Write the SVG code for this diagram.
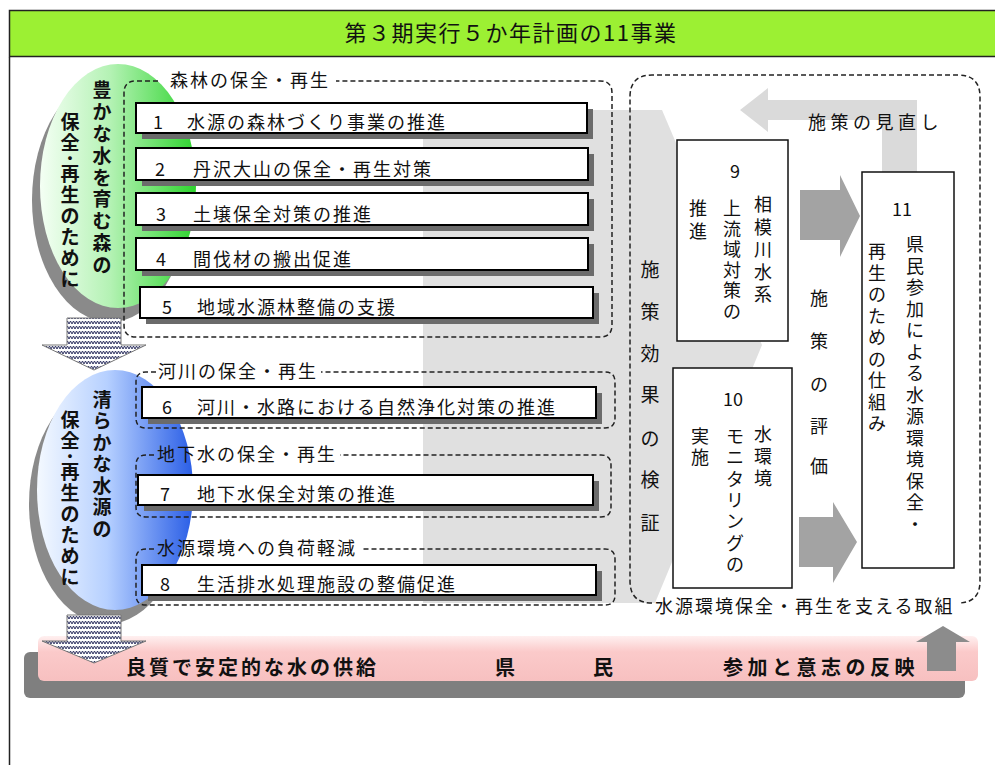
<svg xmlns="http://www.w3.org/2000/svg" width="995" height="765" viewBox="0 0 995 765">
<defs>
  <linearGradient id="gGreen" x1="0" y1="0" x2="1" y2="0">
    <stop offset="0" stop-color="#f4fff4"/>
    <stop offset="0.45" stop-color="#b4f2b4"/>
    <stop offset="1" stop-color="#2ed42e"/>
  </linearGradient>
  <linearGradient id="gBlue" x1="0" y1="0" x2="1" y2="0">
    <stop offset="0" stop-color="#f4f9ff"/>
    <stop offset="0.45" stop-color="#b6d0ff"/>
    <stop offset="1" stop-color="#2a5ee6"/>
  </linearGradient>
  <linearGradient id="gPink" x1="0" y1="0" x2="0" y2="1">
    <stop offset="0" stop-color="#fff0f0"/>
    <stop offset="0.35" stop-color="#fbcaca"/>
    <stop offset="1" stop-color="#f7c0c0"/>
  </linearGradient>
  <pattern id="wave" width="6" height="5" patternUnits="userSpaceOnUse">
    <rect width="6" height="5" fill="#fff"/>
    <path d="M0,4 L1.5,1 L3,4 L4.5,1 L6,4" fill="none" stroke="#2c3060" stroke-width="1"/>
  </pattern>
</defs>
<style>
  .t{font-family:"Noto Sans CJK JP","Noto Sans CJK SC",sans-serif;fill:#111}
  .f18{font-size:18px}
  .f19{font-size:19px}
  .f20{font-size:20px}
  .f22{font-size:22px}
  .b{font-weight:bold}
  .box{fill:#fff;stroke:#000;stroke-width:2}
  .sh{fill:#6b6b6b}
  .dash{fill:none;stroke:#222;stroke-width:1.5;stroke-dasharray:5 3}
  .vbox{fill:#fff;stroke:#111;stroke-width:1.5}
  .wav{fill:url(#wave);stroke:#777;stroke-width:1}
</style>
<rect width="995" height="765" fill="#fff"/>

<!-- header -->
<g id="header">
  <rect x="9.5" y="10.5" width="990" height="46" fill="#9cf033" stroke="#222" stroke-width="1.5"/>
  <text class="t f22" x="511" y="41" text-anchor="middle" letter-spacing="1.5">第３期実行５か年計画の11事業</text>
</g>
<line x1="9.5" y1="57" x2="9.5" y2="765" stroke="#222" stroke-width="1.5"/>

<!-- background shapes -->
<g id="evaluation">
  <polygon points="423,110 662,110 762,345 655,603 423,603" fill="#e0e0e0"/>
  <text class="t f19" text-anchor="middle" dominant-baseline="central" x="650 650 650 650 650 650 650" y="268 310 352 393 437 478 521">施策効果の検証</text>
</g>
<g id="review">
  <polygon points="740,110 768,88 768,100 917,100 917,172 882,172 882,120 768,120 768,132" fill="#dadada"/>
  <text class="t f18" x="808" y="129" letter-spacing="4.5">施策の見直し</text>
</g>

<!-- ovals -->
<g id="forest">
  <ellipse cx="110" cy="200" rx="78" ry="122" fill="#8a8a8a"/>
  <ellipse cx="118" cy="186" rx="78" ry="122" fill="url(#gGreen)"/>
  <text class="t f19 b" text-anchor="middle" dominant-baseline="central" x="102 102 102 102 102 102 102 102 102" y="88 110 132 154 176 197 219 241 263">豊かな水を育む森の</text>
  <text class="t f19 b" text-anchor="middle" dominant-baseline="central" x="70 70 70 70 70 70 70 70 70" y="120 141 157 172 193 214 235 256 277">保全･再生のために</text>
</g>
<g id="water">
  <ellipse cx="107" cy="504" rx="78" ry="120" fill="#8a8a8a"/>
  <ellipse cx="115" cy="490" rx="78" ry="120" fill="url(#gBlue)"/>
  <text class="t f19 b" text-anchor="middle" dominant-baseline="central" x="102 102 102 102 102 102 102" y="398 419.5 441 462.5 484 505.5 527">清らかな水源の</text>
  <text class="t f19 b" text-anchor="middle" dominant-baseline="central" x="70 70 70 70 70 70 70 70 70" y="418 439 455 470 491 512 533 554 575">保全･再生のために</text>
</g>

<!-- groups -->
<g id="group-forest">
  <path class="dash" d="M158,81 L136,81 Q124,81 124,93 L124,325 Q124,337 136,337 L600,337 Q612,337 612,325 L612,93 Q612,81 600,81 L336,81"/>
  <text class="t f18" x="170" y="87" letter-spacing="2">森林の保全・再生</text>
</g>
<g id="group-river">
  <path class="dash" d="M156,372 L146,372 Q136,372 136,382 L136,418 Q136,428 146,428 L605,428 Q615,428 615,418 L615,382 Q615,372 605,372 L321,372"/>
  <text class="t f18" x="158" y="378" letter-spacing="2">河川の保全・再生</text>
</g>
<g id="group-ground">
  <path class="dash" d="M154,455 L146,455 Q136,455 136,465 L136,507 Q136,517 146,517 L601,517 Q611,517 611,507 L611,465 Q611,455 601,455 L340,455"/>
  <text class="t f18" x="157" y="461" letter-spacing="2">地下水の保全・再生</text>
</g>
<g id="group-load">
  <path class="dash" d="M154,549 L146,549 Q136,549 136,559 L136,595 Q136,605 146,605 L605,605 Q615,605 615,595 L615,559 Q615,549 605,549 L361,549"/>
  <text class="t f18" x="157" y="555" letter-spacing="2">水源環境への負荷軽減</text>
</g>

<!-- items 1-8 -->
<g id="item1">
  <rect class="sh" x="142" y="109" width="451" height="30"/>
  <rect class="box" x="136" y="103" width="451" height="30"/>
  <text class="t f18" x="158" y="129" text-anchor="middle">1</text>
  <text class="t f18" x="187" y="129" letter-spacing="2">水源の森林づくり事業の推進</text>
</g>
<g id="item2">
  <rect class="sh" x="142" y="154" width="452" height="32"/>
  <rect class="box" x="136" y="148" width="452" height="32"/>
  <text class="t f18" x="160" y="176" text-anchor="middle">2</text>
  <text class="t f18" x="193" y="176" letter-spacing="2">丹沢大山の保全・再生対策</text>
</g>
<g id="item3">
  <rect class="sh" x="142" y="199" width="452" height="32"/>
  <rect class="box" x="136" y="193" width="452" height="32"/>
  <text class="t f18" x="161" y="221" text-anchor="middle">3</text>
  <text class="t f18" x="193" y="221" letter-spacing="2">土壌保全対策の推進</text>
</g>
<g id="item4">
  <rect class="sh" x="142" y="244" width="452" height="32"/>
  <rect class="box" x="136" y="238" width="452" height="32"/>
  <text class="t f18" x="161" y="266" text-anchor="middle">4</text>
  <text class="t f18" x="193" y="266" letter-spacing="2">間伐材の搬出促進</text>
</g>
<g id="item5">
  <rect class="sh" x="146" y="293" width="453" height="31"/>
  <rect class="box" x="140" y="287" width="453" height="31"/>
  <text class="t f18" x="167" y="314" text-anchor="middle">5</text>
  <text class="t f18" x="197" y="314" letter-spacing="2">地域水源林整備の支援</text>
</g>
<g id="item6">
  <rect class="sh" x="148" y="393" width="454" height="31"/>
  <rect class="box" x="142" y="387" width="454" height="31"/>
  <text class="t f18" x="167" y="414" text-anchor="middle">6</text>
  <text class="t f18" x="197" y="414" letter-spacing="2">河川・水路における自然浄化対策の推進</text>
</g>
<g id="item7">
  <rect class="sh" x="144" y="481" width="455" height="30"/>
  <rect class="box" x="138" y="475" width="455" height="30"/>
  <text class="t f18" x="165" y="501" text-anchor="middle">7</text>
  <text class="t f18" x="197" y="501" letter-spacing="2">地下水保全対策の推進</text>
</g>
<g id="item8">
  <rect class="sh" x="148" y="571" width="454" height="30"/>
  <rect class="box" x="142" y="565" width="454" height="30"/>
  <text class="t f18" x="165" y="591" text-anchor="middle">8</text>
  <text class="t f18" x="197" y="591" letter-spacing="2">生活排水処理施設の整備促進</text>
</g>

<!-- right group -->
<g id="group-support">
  <path class="dash" d="M652,603 Q630,603 630,581 L630,97 Q630,75 652,75 L958,75 Q980,75 980,97 L980,581 Q980,603 958,603"/>
  <text class="t f18" x="655" y="613" letter-spacing="2">水源環境保全・再生を支える取組</text>
</g>
<g id="item9">
  <rect class="vbox" x="677" y="140" width="111" height="201"/>
  <text class="t f18" x="735" y="170" text-anchor="middle" dominant-baseline="central">9</text>
  <text class="t f18" text-anchor="middle" dominant-baseline="central" x="763 763 763 763 763" y="203 225.5 248 270.5 293">相模川水系</text>
  <text class="t f18" text-anchor="middle" dominant-baseline="central" x="732 732 732 732 732 732" y="207 227.6 248.2 268.8 289.4 310">上流域対策の</text>
  <text class="t f18" text-anchor="middle" dominant-baseline="central" x="698 698" y="207 230">推進</text>
</g>
<g id="item10">
  <rect class="vbox" x="673" y="368" width="119" height="220"/>
  <text class="t f18" x="733" y="398" text-anchor="middle" dominant-baseline="central">10</text>
  <text class="t f18" text-anchor="middle" dominant-baseline="central" x="763 763 763" y="433 455 477">水環境</text>
  <text class="t f18" text-anchor="middle" dominant-baseline="central" x="735 735 735 735 735 735 735" y="435 456 478 499 520 542 563">モニタリングの</text>
  <text class="t f18" text-anchor="middle" dominant-baseline="central" x="700 700" y="435 456">実施</text>
</g>
<g id="item11">
  <rect class="vbox" x="862" y="172" width="92" height="396"/>
  <text class="t f18" x="902" y="208" text-anchor="middle" dominant-baseline="central">11</text>
  <text class="t f18" text-anchor="middle" dominant-baseline="central" x="915 915 915 915 915 915 915 915 915 915 915 915 915 915" y="243 264.5 286 307.5 329 350.5 372 393.5 415 436.5 458 479.5 501 522.5">県民参加による水源環境保全・</text>
  <text class="t f18" text-anchor="middle" dominant-baseline="central" x="877 877 877 877 877 877 877 877 877" y="250 271.5 293 314.5 336 357.5 379 400.5 422">再生のための仕組み</text>
</g>
<text class="t f18" text-anchor="middle" dominant-baseline="central" x="819 819 819 819 819" y="297 340 383 425 465">施策の評価</text>

<!-- bottom bar -->
<g id="citizens">
  <rect x="24" y="652" width="941" height="46" rx="6" fill="#7f7f7f"/>
  <rect x="38" y="636" width="940" height="45" rx="6" fill="url(#gPink)"/>
  <text class="t f20 b" x="126" y="675" letter-spacing="3">良質で安定的な水の供給</text>
  <text class="t f20 b" x="505" y="675" text-anchor="middle">県</text>
  <text class="t f20 b" x="603" y="675" text-anchor="middle">民</text>
  <text class="t f20 b" x="723" y="675" letter-spacing="4.5">参加と意志の反映</text>
</g>

<!-- connectors -->
<g id="connectors">
  <polygon class="wav" points="67,318 121,318 121,345 146,345 94,370 42,345 67,345"/>
  <polygon class="wav" points="67,615 121,615 121,641 146,641 94,663 42,641 67,641"/>
  <polygon points="800,190 840,190 840,175 860,216 840,257 840,240 800,240" fill="#a3a3a3"/>
  <polygon points="799,517 833,517 833,502 857,542 833,583 833,567 799,567" fill="#a3a3a3"/>
  <polygon points="943,626 970,642 956,642 956,671 927,671 927,642 916,642" fill="#8c8c8c"/>
</g>
</svg>
